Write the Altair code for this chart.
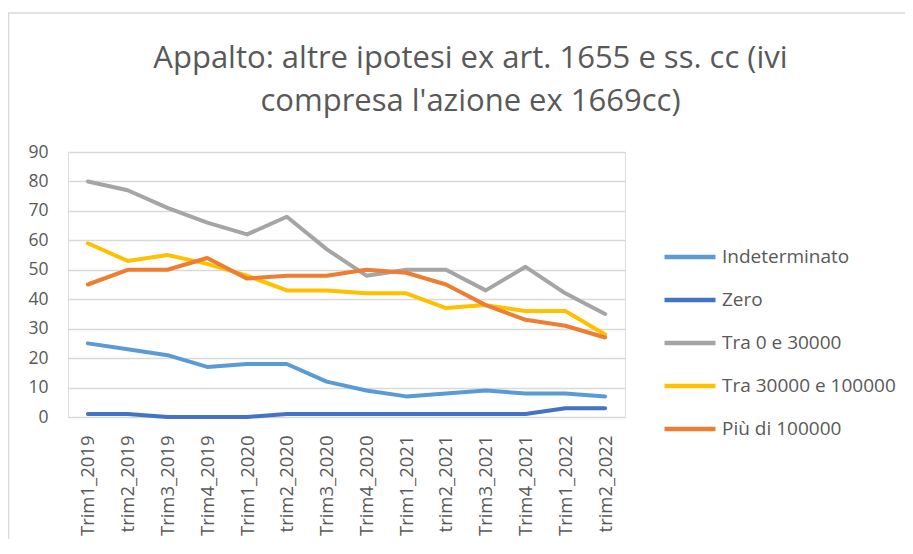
import altair as alt
import pandas as pd

periods = ["Trim1_2019", "trim2_2019", "Trim3_2019", "Trim4_2019",
           "Trim1_2020", "trim2_2020", "Trim3_2020", "Trim4_2020",
           "Trim1_2021", "trim2_2021", "Trim3_2021", "Trim4_2021",
           "Trim1_2022", "trim2_2022"]

series_names = ["Indeterminato", "Zero", "Tra 0 e 30000",
                "Tra 30000 e 100000", "Più di 100000"]

indeterminato = [25, 23, 21, 17, 18, 18, 12, 9, 7, 8, 9, 8, 8, 7]
zero = [1, 1, 0, 0, 0, 1, 1, 1, 1, 1, 1, 1, 3, 3]
tra_0_30000 = [80, 77, 71, 66, 62, 68, 57, 48, 50, 50, 43, 51, 42, 35]
tra_30000_100000 = [59, 53, 55, 52, 48, 43, 43, 42, 42, 37, 38, 36, 36, 28]
piu_100000 = [45, 50, 50, 54, 47, 48, 48, 50, 49, 45, 38, 33, 31, 27]

colors = ["#5B9BD5", "#4472C4", "#A5A5A5", "#FFC000", "#ED7D31"]

all_values = [indeterminato, zero, tra_0_30000, tra_30000_100000, piu_100000]
rows = []
for name, vals in zip(series_names, all_values):
    for i, (p, v) in enumerate(zip(periods, vals)):
        rows.append({"Periodo": p, "idx": i, "Serie": name, "Valore": v})
df = pd.DataFrame(rows)

FONT = "Open Sans"
GREY = "#595959"

W, H = 557, 265
PAD = {"left": 60, "top": 144, "right": 280, "bottom": 122}

lines = alt.Chart(df).mark_line(strokeWidth=4, strokeCap="round", strokeJoin="round").encode(
    x=alt.X("Periodo:N", sort=periods, title=None,
            scale=alt.Scale(padding=0.5),
            axis=alt.Axis(labelAngle=-90, labelFontSize=18.5, labelColor=GREY,
                          labelFont=FONT, labelPadding=18, ticks=False,
                          domain=False, grid=False)),
    y=alt.Y("Valore:Q", title=None,
            scale=alt.Scale(domain=[0, 90]),
            axis=alt.Axis(values=list(range(0, 91, 10)), labelFontSize=17.5,
                          labelColor=GREY, labelFont=FONT, labelPadding=20,
                          ticks=False, domain=False, gridColor="#D9D9D9",
                          gridWidth=1.3)),
    color=alt.Color("Serie:N", sort=series_names, title=None,
                    scale=alt.Scale(domain=series_names, range=colors),
                    legend=alt.Legend(orient="none", legendX=594, legendY=77,
                                      symbolType="stroke", symbolSize=2600,
                                      symbolStrokeWidth=4.5, labelFontSize=19,
                                      labelFont=FONT, labelColor=GREY,
                                      labelOffset=4, rowPadding=5, padding=0,
                                      labelLimit=300)),
    order=alt.Order("idx:Q"),
)

frame = alt.Chart(pd.DataFrame({"k": [0]})).mark_rect(
    fill="white", fillOpacity=0, stroke="#D9D9D9", strokeWidth=1.5
).encode(
    x=alt.value(-59.5), x2=alt.value(W + 300),
    y=alt.value(-139), y2=alt.value(H + 200),
)

chart = alt.layer(frame, lines).properties(
    width=W, height=H,
    autosize=alt.AutoSizeParams(type="none"),
    padding=PAD,
    title=alt.TitleParams(
        text=["Appalto: altre ipotesi ex art. 1655 e ss. cc (ivi",
              "compresa l'azione ex 1669cc)"],
        fontSize=31, font=FONT, fontWeight="normal", color=GREY,
        anchor="middle", frame="group", dx=124, offset=-106, lineHeight=43,
    ),
).configure_view(stroke=None).configure(background="white")

chart.save("out.html", embed_options={"renderer": "svg", "actions": False})
